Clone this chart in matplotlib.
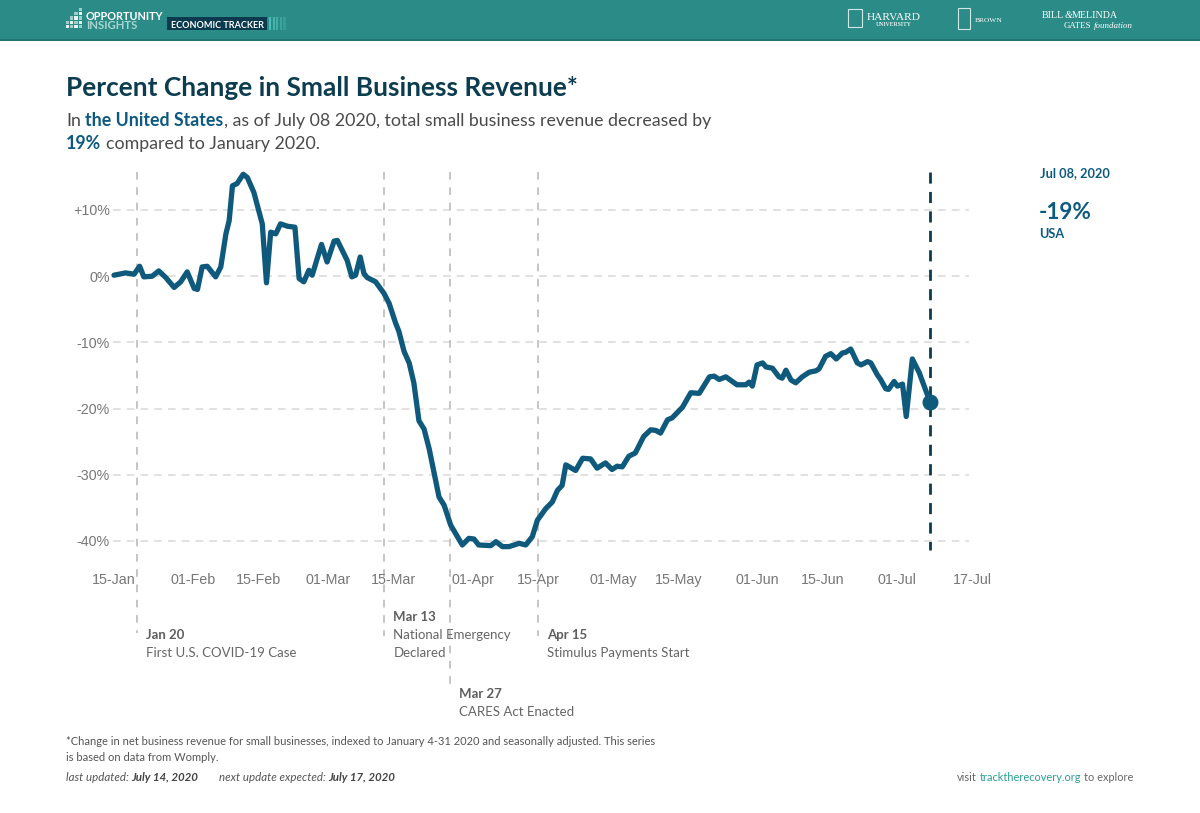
import matplotlib
matplotlib.use('Agg')
import matplotlib.pyplot as plt
import matplotlib.transforms as mtransforms
from matplotlib.patches import Rectangle

# ---------------- data ----------------
day_offsets = [0, 2.5, 4.3, 5.5, 6.4, 8.2, 9.6, 11.1, 12.9, 14.3, 15.7, 17.2, 17.9, 18.9, 20.0,
               21.8, 22.9, 24.0, 24.7, 25.4, 26.4, 27.7, 28.6, 30.0, 31.8, 32.7, 33.6, 34.7, 35.7,
               37.2, 38.8, 39.7, 40.7, 41.8, 42.5, 44.5, 45.7, 47.2, 47.9, 49.3, 50.0, 51.0, 51.8,
               52.8, 53.6, 54.3, 56.1, 57.9, 59.0, 60.4, 61.1, 62.2, 63.3, 64.3, 65.4, 66.5, 67.6,
               69.7, 70.8, 72.2, 74.7, 76.1, 77.2, 78.2, 80.8, 81.9, 83.3, 84.7, 86.9, 88.3, 89.7,
               90.8, 92.6, 94.0, 95.1, 96.1, 96.9, 99.0, 100.5, 102.2, 103.6, 105.4, 106.8, 107.9,
               109.0, 110.4, 111.8, 113.6, 115.1, 116.2, 117.2, 118.7, 119.7, 121.9, 123.7, 125.5,
               127.7, 128.7, 129.8, 131.2, 133.6, 135.5, 136.2, 136.9, 137.9, 139.1, 139.8, 141.2,
               142.6, 143.3, 144.1, 145.2, 146.2, 147.6, 149.1, 150.5, 151.2, 152.6, 153.7, 154.9,
               156.2, 156.9, 158.0, 159.4, 160.2, 161.6, 162.3, 163.7, 164.4, 165.5, 166.1, 167.3,
               168.0, 169.1, 169.9, 171.2, 172.7, 175.0]
revenue_change = [0.15, 0.5, 0.3, 1.5, -0.1, 0.0, 0.8, -0.2, -1.7, -0.85, 0.65, -1.85, -2.0, 1.4, 1.5,
                  -0.1, 1.4, 6.4, 8.4, 13.65, 14.0, 15.4, 14.9, 12.65, 7.9, -1.0, 6.65, 6.4, 7.9,
                  7.55, 7.4, -0.35, -0.85, 0.9, 0.15, 4.8, 2.15, 5.3, 5.4, 3.4, 2.4, -0.1, 0.15,
                  2.9, 0.4, -0.2, -0.85, -2.6, -4.1, -7.1, -8.35, -11.35, -13.1, -16.1, -21.85, -23.1, -26.1,
                  -33.35, -34.6, -37.6, -40.6, -39.6, -39.7, -40.6, -40.7, -40.1, -40.85, -40.85, -40.35, -40.6, -39.35,
                  -36.85, -35.1, -34.1, -32.35, -31.6, -28.5, -29.35, -27.5, -27.6, -29.0, -28.2, -29.2, -28.7,
                  -28.8, -27.2, -26.7, -24.2, -23.2, -23.3, -23.7, -21.7, -21.4, -19.8, -17.6, -17.7,
                  -15.2, -15.1, -15.6, -15.2, -16.4, -16.4, -16.0, -16.6, -13.4, -13.1, -13.7, -13.9,
                  -15.2, -15.4, -14.2, -15.7, -16.1, -15.2, -14.5, -14.3, -14.0, -12.1, -11.7, -12.5,
                  -11.6, -11.5, -11.0, -13.1, -13.4, -12.9, -13.1, -14.9, -15.6, -17.0, -17.1, -15.9,
                  -16.6, -16.3, -21.2, -12.5, -14.6, -19.0]
tick_days = [0, 17, 31, 46, 60, 77, 91, 107, 121, 138, 152, 168, 184]
tick_labels = ['15-Jan', '01-Feb', '15-Feb', '01-Mar', '15-Mar', '01-Apr', '15-Apr',
               '01-May', '15-May', '01-Jun', '15-Jun', '01-Jul', '17-Jul']
y_ticks = [10, 0, -10, -20, -30, -40]
y_labels = ['+10%', '0%', '-10%', '-20%', '-30%', '-40%']
event_days = [5, 58, 72, 91]
event_titles = ['Jan 20', 'Mar 13', 'Mar 27', 'Apr 15']
event_texts = [['First U.S. COVID-19 Case'], ['National Emergency', 'Declared'],
               ['CARES Act Enacted'], ['Stimulus Payments Start']]
latest_day = 175
latest_value = -19
latest_label = 'Jul 08, 2020'

# ---------------- style ----------------
W, H = 1200, 813
SANS = 'Lato'
TICKF = 'Liberation Sans'
SERIF = 'Liberation Serif'
LINE_C = '#0f5a7c'
TITLE_C = '#0c3c4f'
ACCENT = '#0d5a80'
TEXT_C = '#4a4a4a'
EVENT_C = '#666666'
TEAL = '#2a8b87'

fig = plt.figure(figsize=(12, 8.13), dpi=100)
fig.patch.set_facecolor('white')
renderer = fig.canvas.get_renderer()


def fx(px):
    return px / W


def fy(py):
    return 1 - py / H


def _w(t):
    return t.get_window_extent(renderer).width


def place_runs(x, y, runs, size, family=SANS, ha='left'):
    """runs: list of (text, weight, style, color). x,y in figure pixels (y from top)."""
    objs = []
    cur = 0.0
    for text, weight, style, color in runs:
        lead = len(text) - len(text.lstrip(' '))
        trail = len(text) - len(text.rstrip(' '))
        core = text.strip(' ')
        probe1 = fig.text(0, 0, 'a a', fontsize=size, family=family, weight=weight, style=style)
        probe2 = fig.text(0, 0, 'aa', fontsize=size, family=family, weight=weight, style=style)
        sp = _w(probe1) - _w(probe2)
        probe1.remove(); probe2.remove()
        cur += lead * sp
        t = fig.text(fx(x + cur), fy(y), core, fontsize=size, family=family, weight=weight,
                     style=style, color=color, va='baseline', ha='left')
        cur += _w(t) + trail * sp
        objs.append(t)
    if ha == 'right':
        for t in objs:
            pos = t.get_position()
            t.set_position((pos[0] - cur / W, pos[1]))
    return objs, cur


def fit_runs(x, y, runs, target, family=SANS, ha='left', base=10.0):
    objs, width = place_runs(x, y, runs, base, family)
    for o in objs:
        o.remove()
    size = base * target / width
    place_runs(x, y, runs, size, family, ha=ha)
    return size


# ---------------- header band ----------------
fig.patches.append(Rectangle((0, fy(40)), 1, 40 / H, transform=fig.transFigure,
                             facecolor=TEAL, edgecolor='none', zorder=0))
fig.patches.append(Rectangle((0, fy(41)), 1, 1.5 / H, transform=fig.transFigure,
                             facecolor='#1f7571', edgecolor='none', zorder=0))
# small square icon
icon_heights = [2, 3, 4, 5]
for i, hgt in enumerate(icon_heights):
    for j in range(hgt):
        fig.patches.append(Rectangle((fx(66 + i * 4.2), fy(28 - j * 4.2)), 3.2 / W, 3.2 / H,
                                     transform=fig.transFigure,
                                     facecolor='#ffffff' if (i + j) % 2 == 0 else '#a9d6d3',
                                     edgecolor='none', alpha=0.9))
fit_runs(86, 20, [('OPPORTUNITY', 'bold', 'normal', 'white')], 78)
fit_runs(86, 29, [('INSIGHTS', 'bold', 'normal', '#a9d6d3')], 52)
fig.patches.append(Rectangle((fx(167), fy(30)), 100 / W, 13 / H, transform=fig.transFigure,
                             facecolor='#0b3a4e', edgecolor='none'))
fit_runs(171, 27.5, [('ECONOMIC TRACKER', 'bold', 'normal', 'white')], 92)
for k in range(5):
    fig.patches.append(Rectangle((fx(269 + k * 3.6), fy(30)), 2.2 / W, 13 / H, transform=fig.transFigure,
                                 facecolor='#4fc4bb', edgecolor='none', alpha=0.9 - k * 0.15))
# university logos (text approximations)
fig.patches.append(Rectangle((fx(848), fy(27)), 14 / W, 18 / H, transform=fig.transFigure,
                             facecolor='none', edgecolor='#cfe8e6', linewidth=0.8))
fit_runs(867, 20, [('HARVARD', 'normal', 'normal', 'white')], 54, family=SERIF)
fit_runs(876, 26.5, [('UNIVERSITY', 'bold', 'normal', '#dff0ef')], 36, family=SERIF)
fig.patches.append(Rectangle((fx(958), fy(29)), 12 / W, 21 / H, transform=fig.transFigure,
                             facecolor='none', edgecolor='#cfe8e6', linewidth=0.8))
fit_runs(975, 22, [('BROWN', 'normal', 'normal', 'white')], 28, family=SERIF)
fit_runs(1042, 18.5, [('BILL', 'normal', 'normal', 'white'), ('&', 'normal', 'italic', 'white'),
                      ('MELINDA', 'normal', 'normal', 'white')], 76, family=SERIF)
fit_runs(1064, 28.5, [('GATES ', 'normal', 'normal', 'white'),
                      ('foundation', 'normal', 'italic', 'white')], 69, family=SERIF)

# ---------------- titles ----------------
fit_runs(66, 96, [('Percent Change in Small Business Revenue*', 'bold', 'normal', TITLE_C)], 512)
sub_size = fit_runs(66, 126, [('In ', 'normal', 'normal', TEXT_C),
                              ('the United States', 'bold', 'normal', ACCENT),
                              (', as of July 08 2020, total small business revenue decreased by',
                               'normal', 'normal', TEXT_C)], 646)
place_runs(66, 149, [('19%', 'bold', 'normal', ACCENT),
                     (' compared to January 2020.', 'normal', 'normal', TEXT_C)], sub_size)

# ---------------- axes ----------------
ax_left, ax_right, ax_top, ax_bottom = 114, 972, 172, 560
ax = fig.add_axes([fx(ax_left), fy(ax_bottom), (ax_right - ax_left) / W, (ax_bottom - ax_top) / H])
ax.set_facecolor('none')
px_per_pct = 331 / 50.0
ax.set_xlim(tick_days[0], tick_days[-1])
ax.set_ylim(10 - (ax_bottom - 210) / px_per_pct, 10 - (ax_top - 210) / px_per_pct)
for s in ax.spines.values():
    s.set_visible(False)
ax.set_xticks(tick_days)
ax.set_xticklabels(tick_labels)
ax.set_yticks(y_ticks)
ax.set_yticklabels(y_labels)
ax.tick_params(length=0, colors='#777777', labelsize=10.3, pad=3)
ax.tick_params(axis='x', pad=9)
for lab in ax.get_xticklabels() + ax.get_yticklabels():
    lab.set_family(TICKF)

# grid
ax.hlines(y_ticks, -0.2, 183.4, colors='#d8d8d8', linewidth=1.1, linestyles=(0, (5, 4)),
          clip_on=False, zorder=1)


def val_at_px(py):
    return 10 - (py - 210) / px_per_pct


# event lines and labels
event_ends = [633, 636, 689, 636]
event_title_y = [639, 621, 698, 639]
EV_SIZE = 9.5
blend = mtransforms.blended_transform_factory(ax.transData, fig.transFigure)
for d, title, lines, yend, ty in zip(event_days, event_titles, event_texts, event_ends, event_title_y):
    ax.plot([d, d], [val_at_px(ax_top), val_at_px(yend)], color='#b5b5b5', linewidth=1.1,
            linestyle=(0, (5, 5)), clip_on=False, zorder=1)
    tr = mtransforms.offset_copy(blend, fig=fig, x=9, y=0, units='dots')
    ax.text(d, fy(ty), title, transform=tr, fontsize=EV_SIZE, family=SANS, weight='bold',
            color='#5e5e5e', va='baseline', ha='left', clip_on=False)
    for k, ln in enumerate(lines):
        ax.text(d, fy(ty + 18 * (k + 1)), ln, transform=tr, fontsize=EV_SIZE, family=SANS,
                color=EVENT_C, va='baseline', ha='left', clip_on=False)

# main line
ax.plot(day_offsets, revenue_change, color=LINE_C, linewidth=3.8, solid_joinstyle='round',
        solid_capstyle='round', clip_on=False, zorder=3)
ax.plot([latest_day], [latest_value], 'o', color=LINE_C, markersize=10.5, clip_on=False, zorder=4)
ax.plot([latest_day, latest_day], [val_at_px(ax_top), val_at_px(550)], color='#0c3c4f',
        linewidth=2, linestyle=(0, (4, 3)), clip_on=False, zorder=2)

# right-side latest value
fit_runs(1040, 177, [(latest_label, 'bold', 'normal', ACCENT)], 70)
fit_runs(1039, 219, [('%d%%' % latest_value, 'bold', 'normal', ACCENT)], 53)
fit_runs(1039, 238, [('USA', 'bold', 'normal', ACCENT)], 25)

# ---------------- footer ----------------
foot_size = fit_runs(66, 745, [('*Change in net business revenue for small businesses, indexed to January 4-31 2020 '
                                'and seasonally adjusted. This series', 'normal', 'normal', '#555555')], 589)
place_runs(66, 761, [('is based on data from Womply.', 'normal', 'normal', '#555555')], foot_size)
fit_runs(66, 781, [('last updated: ', 'normal', 'italic', '#555555'),
                   ('July 14, 2020', 'bold', 'italic', '#444444')], 132)
fit_runs(219, 781, [('next update expected: ', 'normal', 'italic', '#555555'),
                    ('July 17, 2020', 'bold', 'italic', '#444444')], 175)
fit_runs(957, 781, [('visit ', 'normal', 'normal', '#666666'),
                    ('tracktherecovery.org', 'normal', 'normal', '#2a9d94'),
                    (' to explore', 'normal', 'normal', '#666666')], 176)

fig.savefig('out.png', dpi=100, facecolor='white')
